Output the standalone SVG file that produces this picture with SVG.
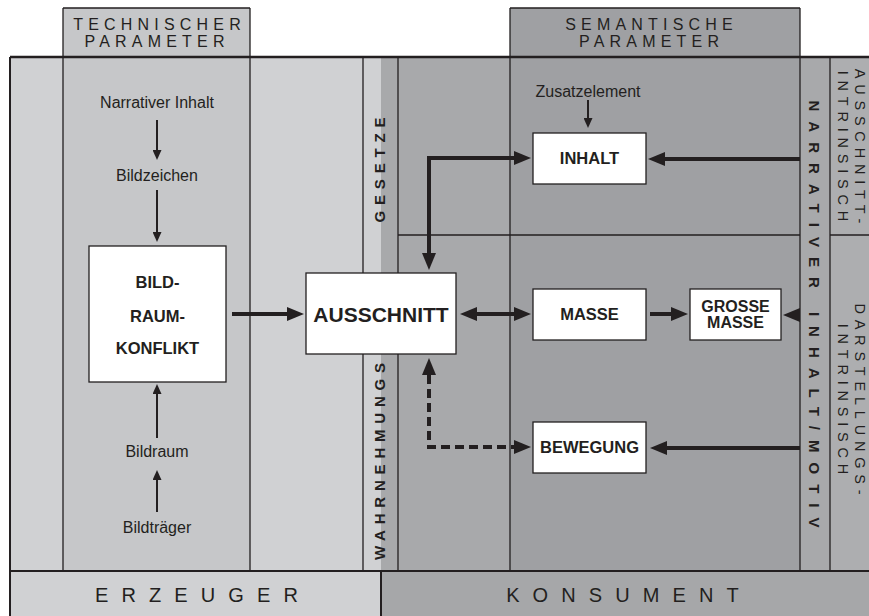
<svg xmlns="http://www.w3.org/2000/svg" width="869" height="616" viewBox="0 0 869 616">
  <defs>
    <style>
      .ink{stroke:#231f20;fill:none}
      .thin{stroke-width:1.3}
      .lbl{font-family:"Liberation Sans",Arial,sans-serif;font-size:16px;fill:#231f20;text-anchor:middle}
      .hdr{font-family:"Liberation Sans",Arial,sans-serif;font-size:16px;fill:#231f20;text-anchor:middle;letter-spacing:5.2px}
      .band{font-family:"Liberation Sans",Arial,sans-serif;font-size:20px;fill:#231f20;text-anchor:middle;letter-spacing:13.1px}
      .vb{font-family:"Liberation Sans",Arial,sans-serif;font-size:15px;font-weight:bold;fill:#231f20;text-anchor:middle}
      .vr{font-family:"Liberation Sans",Arial,sans-serif;font-size:14.5px;fill:#231f20;text-anchor:middle;letter-spacing:5.8px}
      .node rect{fill:#ffffff;stroke:#231f20;stroke-width:1.3}
      .node text{font-family:"Liberation Sans",Arial,sans-serif;font-weight:bold;font-size:16.5px;fill:#231f20;text-anchor:middle}
      .arr{stroke:#231f20;stroke-width:4;fill:none}
      .arrS{stroke:#231f20;stroke-width:2;fill:none}
    </style>
    <marker id="head" viewBox="0 0 17 14" markerWidth="17" markerHeight="14" refX="0" refY="7" orient="auto-start-reverse" markerUnits="userSpaceOnUse">
      <path d="M0,0 L17,7 L0,14 z" fill="#231f20"/>
    </marker>
    <marker id="headS" viewBox="0 0 10 9" markerWidth="10" markerHeight="9" refX="0" refY="4.5" orient="auto-start-reverse" markerUnits="userSpaceOnUse">
      <path d="M0,0 L10,4.5 L0,9 z" fill="#231f20"/>
    </marker>
  </defs>

  <rect x="0" y="0" width="869" height="616" fill="#ffffff"/>

  <!-- column backgrounds -->
  <g id="columns">
    <rect x="10" y="57" width="53" height="514" fill="#d0d1d3"/>
    <rect x="63" y="8" width="187" height="563" fill="#c6c7c9"/>
    <rect x="250" y="57" width="131" height="514" fill="#d0d1d3"/>
    <rect x="381" y="57" width="129" height="514" fill="#a8a9ab"/>
    <rect x="510" y="8" width="290" height="563" fill="#9fa0a3"/>
    <rect x="800" y="57" width="30" height="514" fill="#a8a9ab"/>
    <rect x="830" y="57" width="39" height="514" fill="#adaeb0"/>
    <rect x="10" y="571" width="371" height="45" fill="#d0d1d3"/>
    <rect x="381" y="571" width="488" height="45" fill="#a6a7a9"/>
  </g>

  <!-- frame and column rules -->
  <g id="rules">
    <path class="ink thin" d="M63,8 H250 M510,8 H800"/>
    <path class="ink thin" d="M63,8 V571 M250,8 V571 M363,57 V571 M398,57 V571 M510,8 V571 M800,8 V571 M830,57 V571"/>
    <path class="ink thin" d="M398,235 H800 M830,235 H869"/>
    <path class="ink" stroke-width="2.5" d="M10,57 H869"/>
    <path class="ink" stroke-width="2" d="M10,57 V616 M10,571 H869 M381,571 V616"/>
  </g>

  <!-- headers and band labels -->
  <g id="headers">
    <text class="hdr" x="159.6" y="29.5">TECHNISCHER</text>
    <text class="hdr" x="157.1" y="46.5">PARAMETER</text>
    <text class="hdr" x="651.6" y="29.5">SEMANTISCHE</text>
    <text class="hdr" x="651.6" y="46.5">PARAMETER</text>
    <text class="band" x="203" y="602">ERZEUGER</text>
    <text class="band" x="629" y="602">KONSUMENT</text>
  </g>

  <!-- vertical labels -->
  <g id="vertical-labels">
    <text class="vb" transform="translate(384.5,170) rotate(-90)" letter-spacing="5.8" x="2.9" y="0">GESETZE</text>
    <text class="vb" transform="translate(384.5,461.5) rotate(-90)" letter-spacing="5.8" x="2.9" y="0">WAHRNEHMUNGS</text>
    <text class="vb" transform="translate(808.6,314) rotate(90)" letter-spacing="10" x="5" y="0">NARRATIVER INHALT/MOTIV</text>
    <text class="vr" transform="translate(855,146) rotate(90)" x="2.9" y="0">AUSSCHNITT-</text>
    <text class="vr" transform="translate(838,146) rotate(90)" x="2.9" y="0">INTRINSISCH</text>
    <text class="vr" transform="translate(855,399) rotate(90)" x="2.9" y="0">DARSTELLUNGS-</text>
    <text class="vr" transform="translate(838,399) rotate(90)" x="2.9" y="0">INTRINSISCH</text>
  </g>

  <!-- plain labels -->
  <g id="labels">
    <text class="lbl" x="157" y="108">Narrativer Inhalt</text>
    <text class="lbl" x="157" y="181">Bildzeichen</text>
    <text class="lbl" x="157" y="457">Bildraum</text>
    <text class="lbl" x="157" y="533">Bildträger</text>
    <text class="lbl" x="588" y="97">Zusatzelement</text>
  </g>

  <!-- connectors -->
  <g id="connectors">
    <path class="arrS" d="M157,120 V150" marker-end="url(#headS)"/>
    <path class="arrS" d="M157,190 V232" marker-end="url(#headS)"/>
    <path class="arrS" d="M157,438 V394" marker-end="url(#headS)"/>
    <path class="arrS" d="M157,512 V480" marker-end="url(#headS)"/>
    <path class="arrS" d="M588,100 V118" marker-end="url(#headS)"/>
    <path class="arr" d="M232,314 H287" marker-end="url(#head)"/>
    <path class="arr" d="M477,314 H514" marker-start="url(#head)" marker-end="url(#head)"/>
    <path class="arr" d="M650,314 H671" marker-end="url(#head)"/>
    <polygon points="800,308 783,315 800,322" fill="#231f20"/>
    <path class="arr" d="M800,159 H665" marker-end="url(#head)"/>
    <path class="arr" d="M800,448 H667" marker-end="url(#head)"/>
    <path class="arr" d="M429,253 V158 H514" marker-start="url(#head)" marker-end="url(#head)"/>
    <path class="arr" d="M429,375 V447 H514" stroke-dasharray="9,5" marker-start="url(#head)" marker-end="url(#head)"/>
  </g>

  <!-- nodes -->
  <g id="bildraumkonflikt" class="node">
    <rect x="89" y="246" width="137" height="136"/>
    <text x="157.5" y="288">BILD-</text>
    <text x="157.5" y="322">RAUM-</text>
    <text x="157.5" y="354">KONFLIKT</text>
  </g>
  <g id="ausschnitt" class="node">
    <rect x="306" y="273" width="150" height="81"/>
    <text x="381" y="322" style="font-size:21px">AUSSCHNITT</text>
  </g>
  <g id="inhalt" class="node">
    <rect x="533" y="133" width="113" height="51"/>
    <text x="589.5" y="164">INHALT</text>
  </g>
  <g id="masse" class="node">
    <rect x="533" y="289" width="113" height="51"/>
    <text x="589.5" y="320">MASSE</text>
  </g>
  <g id="grosse-masse" class="node">
    <rect x="690" y="289" width="91" height="51"/>
    <text x="735.5" y="311.5" style="font-size:16px">GROSSE</text>
    <text x="735.5" y="328" style="font-size:16px">MASSE</text>
  </g>
  <g id="bewegung" class="node">
    <rect x="533" y="422" width="113" height="51"/>
    <text x="589.5" y="453">BEWEGUNG</text>
  </g>
</svg>
